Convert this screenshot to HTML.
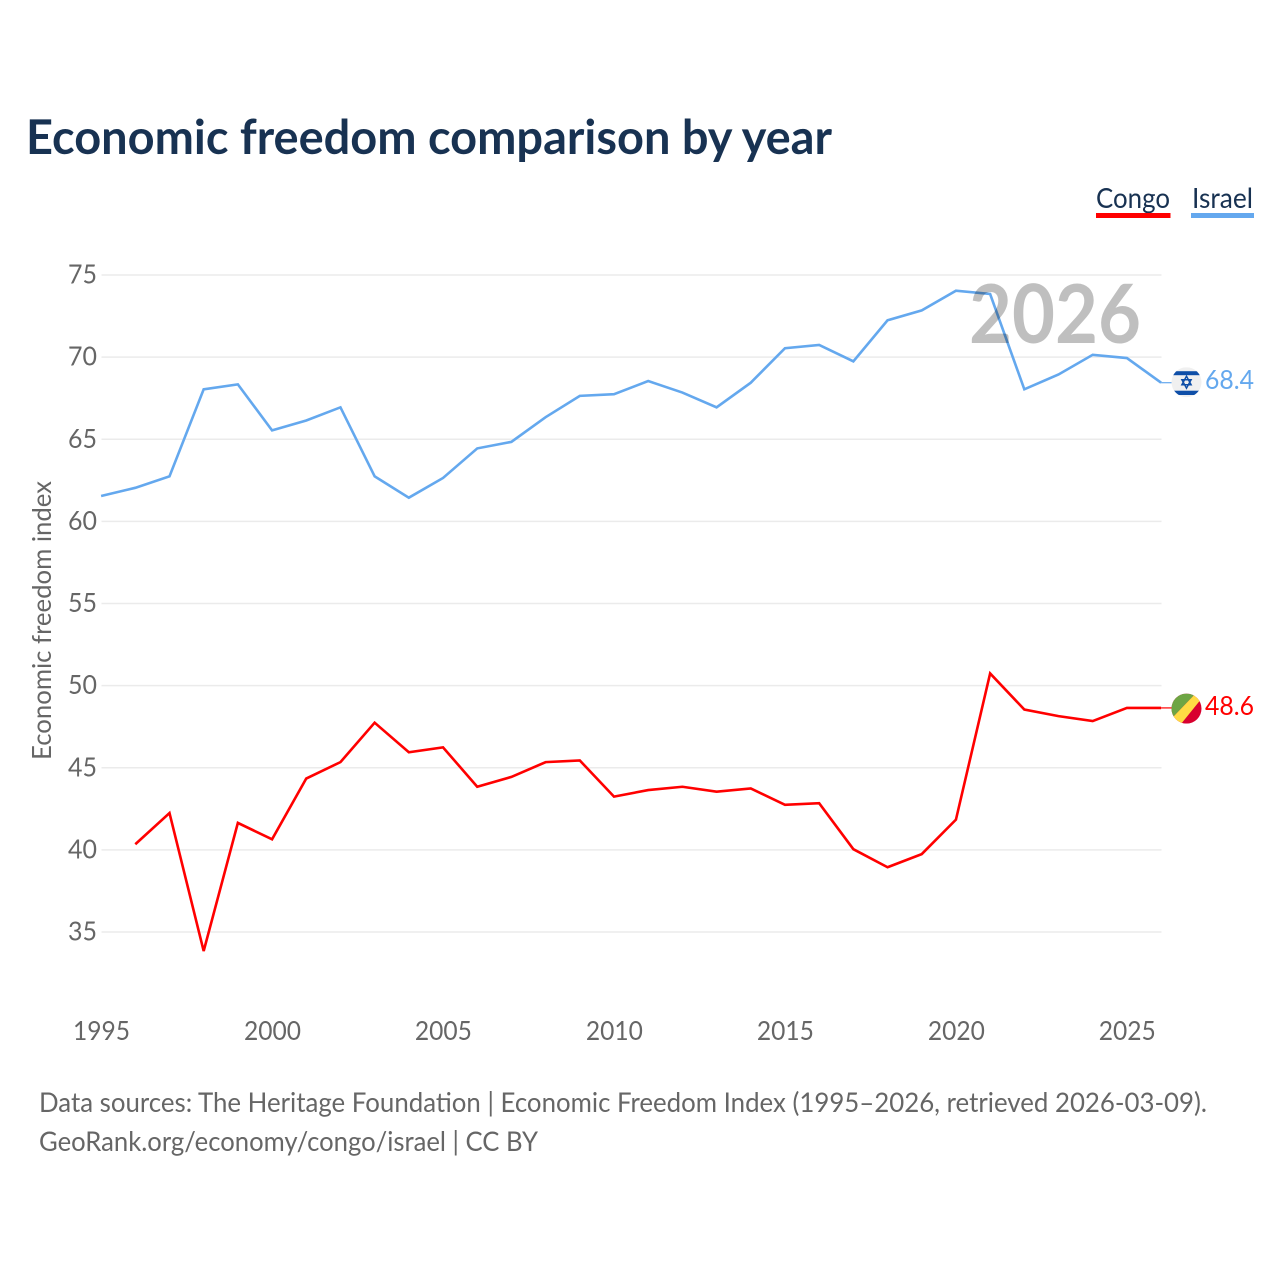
<!DOCTYPE html>
<html lang="en">
<head>
<meta charset="utf-8">
<title>Economic freedom comparison by year</title>
<style>
html,body{margin:0;padding:0;background:#fff;}
svg{display:block;}
text{font-family:"Lato","Carlito","Liberation Sans",sans-serif;}
</style>
</head>
<body>
<svg id="chart" xmlns="http://www.w3.org/2000/svg" width="1280" height="1280" viewBox="0 0 1280 1280">
  <rect x="0" y="0" width="1280" height="1280" fill="#ffffff"/>
  <text x="26" y="154" font-size="48" font-weight="700" fill="#183252" textLength="806" lengthAdjust="spacingAndGlyphs">Economic freedom comparison by year</text>

  <g>
    <text x="1096" y="208" font-size="28" fill="#183252" textLength="74" lengthAdjust="spacingAndGlyphs">Congo</text>
    <rect x="1096" y="213" width="74.5" height="5" fill="#ff0000"/>
  </g>
  <g>
    <text x="1192" y="208" font-size="28" fill="#183252" textLength="61" lengthAdjust="spacingAndGlyphs">Israel</text>
    <rect x="1191" y="213" width="63" height="5" fill="#64a8ee"/>
  </g>

  <g id="grid"></g>
  <g id="yticks"></g>
  <g id="xticks"></g>
  <text transform="translate(51,760) rotate(-90)" x="0" y="0" font-size="26" fill="#666666" textLength="279" lengthAdjust="spacingAndGlyphs">Economic freedom index</text>

  <g id="series" transform="translate(-0.4,-0.7)"></g>

  <text x="969" y="343" font-size="81" font-weight="700" fill="#000000" fill-opacity="0.25" textLength="172" lengthAdjust="spacingAndGlyphs">2026</text>

  <defs>
    <clipPath id="flag-clip-israel"><circle cx="0" cy="0" r="15"/></clipPath>
    <clipPath id="flag-clip-congo"><circle cx="0" cy="0" r="15"/></clipPath>
  </defs>

  <g id="flagIsrael">
    <g clip-path="url(#flag-clip-israel)">
      <rect x="-15" y="-15" width="30" height="30" fill="#f0f0f0"/>
      <rect x="-15" y="-11" width="30" height="4" fill="#0f4fa8"/>
      <rect x="-15" y="8.5" width="30" height="4.3" fill="#0f4fa8"/>
      <polygon points="0,-6 4.6,2.5 -4.6,2.5" fill="none" stroke="#0f4fa8" stroke-width="1.5"/>
      <polygon points="0,6 4.6,-2.5 -4.6,-2.5" fill="none" stroke="#0f4fa8" stroke-width="1.5"/>
    </g>
  </g>
  <g id="flagCongo">
    <g clip-path="url(#flag-clip-congo)">
      <rect x="-15" y="-15" width="30" height="30" fill="#d8002f"/>
      <polygon points="-15,-15 9,-15 -15,10" fill="#6da544"/>
      <polygon points="9,-15 19,-15 -6,16 -15,16 -15,10" fill="#ffda44"/>
    </g>
  </g>
  <text id="labelIsrael" x="1205" y="389" font-size="26" fill="#64a8ee" textLength="49" lengthAdjust="spacingAndGlyphs">68.4</text>
  <text id="labelCongo" x="1205" y="715" font-size="26" fill="#ff0000" textLength="49" lengthAdjust="spacingAndGlyphs">48.6</text>

  <text x="39" y="1112" font-size="27" fill="#666666" textLength="1168" lengthAdjust="spacingAndGlyphs">Data sources: The Heritage Foundation | Economic Freedom Index (1995–2026, retrieved 2026-03-09).</text>
  <text x="39" y="1151" font-size="27" fill="#666666" textLength="499" lengthAdjust="spacingAndGlyphs">GeoRank.org/economy/congo/israel | CC BY</text>
</svg>
<script>
const years = [1995,1996,1997,1998,1999,2000,2001,2002,2003,2004,2005,2006,2007,2008,2009,2010,2011,2012,2013,2014,2015,2016,2017,2018,2019,2020,2021,2022,2023,2024,2025,2026];
const israelValues = [61.5,62.0,62.7,68.0,68.3,65.5,66.1,66.9,62.7,61.4,62.6,64.4,64.8,66.3,67.6,67.7,68.5,67.8,66.9,68.4,70.5,70.7,69.7,72.2,72.8,74.0,73.8,68.0,68.9,70.1,69.9,68.4];
const congoValues = [null,40.3,42.2,33.8,41.6,40.6,44.3,45.3,47.7,45.9,46.2,43.8,44.4,45.3,45.4,43.2,43.6,43.8,43.5,43.7,42.7,42.8,40.0,38.9,39.7,41.8,50.7,48.5,48.1,47.8,48.6,48.6];
const yTickValues = [35,40,45,50,55,60,65,70,75];
const xTickValues = [1995,2000,2005,2010,2015,2020,2025];

const SVGNS = 'http://www.w3.org/2000/svg';
function xScale(year){ return 101.5 + (year - 1995) * (1161.5 - 101.5) / 31; }
function yScale(value){ return 932 - (value - 35) * (932 - 275) / 40; }

const grid = document.getElementById('grid');
const yticks = document.getElementById('yticks');
const xticks = document.getElementById('xticks');
const seriesGroup = document.getElementById('series');

yTickValues.forEach(function(v){
  const line = document.createElementNS(SVGNS, 'line');
  
  
  line.setAttribute('x1', xScale(1995));
  line.setAttribute('x2', xScale(2026));
  line.setAttribute('y1', yScale(v));
  line.setAttribute('y2', yScale(v));
  line.setAttribute('stroke', '#ebebeb');
  line.setAttribute('stroke-width', '1.6');
  grid.appendChild(line);

  const t = document.createElementNS(SVGNS, 'text');
  
  
  t.setAttribute('x', 68);
  t.setAttribute('y', yScale(v) + 8.5);
  t.setAttribute('font-size', '26');
  t.setAttribute('fill', '#666666');
  t.setAttribute('textLength', '29');
  t.setAttribute('lengthAdjust', 'spacingAndGlyphs');
  t.textContent = v;
  yticks.appendChild(t);
});

xTickValues.forEach(function(y){
  const t = document.createElementNS(SVGNS, 'text');
  
  
  t.setAttribute('x', xScale(y) - 28.5);
  t.setAttribute('y', 1040);
  t.setAttribute('font-size', '26');
  t.setAttribute('fill', '#666666');
  t.setAttribute('textLength', '57');
  t.setAttribute('lengthAdjust', 'spacingAndGlyphs');
  t.textContent = y;
  xticks.appendChild(t);
});

function pathFor(values){
  let d = '';
  values.forEach(function(v, i){
    if (v === null) return;
    d += (d ? 'L' : 'M') + xScale(years[i]).toFixed(2) + ' ' + yScale(v).toFixed(2);
  });
  return d;
}

const israelLine = document.createElementNS(SVGNS, 'path');


israelLine.setAttribute('d', pathFor(israelValues));
israelLine.setAttribute('fill', 'none');
israelLine.setAttribute('stroke', '#64a8ee');
israelLine.setAttribute('stroke-width', '2.6');
seriesGroup.appendChild(israelLine);

const congoLine = document.createElementNS(SVGNS, 'path');


congoLine.setAttribute('d', pathFor(congoValues));
congoLine.setAttribute('fill', 'none');
congoLine.setAttribute('stroke', '#ff0000');
congoLine.setAttribute('stroke-width', '2.6');
seriesGroup.appendChild(congoLine);

const israelLast = israelValues[israelValues.length - 1];
const congoLast = congoValues[congoValues.length - 1];

const israelConn = document.createElementNS(SVGNS, 'line');


israelConn.setAttribute('x1', xScale(2026));
israelConn.setAttribute('x2', 1172);
israelConn.setAttribute('y1', yScale(israelLast));
israelConn.setAttribute('y2', yScale(israelLast));
israelConn.setAttribute('stroke', '#64a8ee');
israelConn.setAttribute('stroke-width', '1.2');
seriesGroup.appendChild(israelConn);

const congoConn = document.createElementNS(SVGNS, 'line');


congoConn.setAttribute('x1', xScale(2026));
congoConn.setAttribute('x2', 1172);
congoConn.setAttribute('y1', yScale(congoLast));
congoConn.setAttribute('y2', yScale(congoLast));
congoConn.setAttribute('stroke', '#ff0000');
congoConn.setAttribute('stroke-width', '1.2');
seriesGroup.appendChild(congoConn);

document.getElementById('flagIsrael').setAttribute('transform', 'translate(1186.5,' + (yScale(israelLast) - 1.2) + ')');
document.getElementById('flagCongo').setAttribute('transform', 'translate(1186.5,' + yScale(congoLast) + ')');
document.getElementById('labelIsrael').textContent = israelLast.toFixed(1);
document.getElementById('labelCongo').textContent = congoLast.toFixed(1);
</script>
</body>
</html>
